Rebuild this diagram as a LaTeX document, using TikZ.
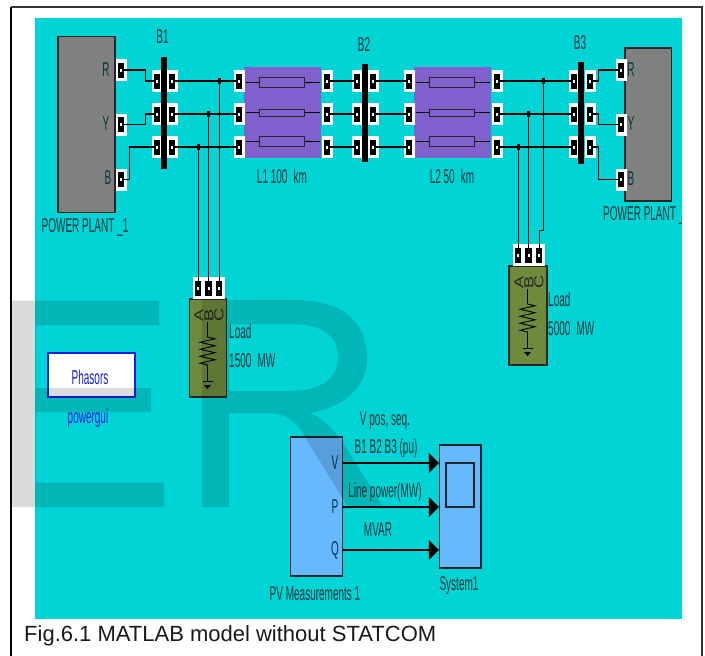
\documentclass[tikz,border=0pt]{standalone}
\usepackage{fontspec}
\setmainfont{Liberation Sans}
\usepackage{xcolor}
\usetikzlibrary{decorations.pathmorphing}
\usetikzlibrary{arrows.meta}
\newfontfamily\narrowfont[FakeStretch=0.5]{Liberation Sans}
\newfontfamily\phasefont[FakeStretch=1.4]{Liberation Sans}
\definecolor{simbg}{HTML}{00D4D4}
\definecolor{plantgray}{HTML}{808080}
\definecolor{lineblock}{HTML}{7F60CC}
\definecolor{loadgreen}{HTML}{6E8B3D}
\definecolor{scopeblue}{HTML}{66B8FF}
\definecolor{labeltxt}{HTML}{06363E}
\definecolor{guiblue}{HTML}{1420E0}
\tikzset{
	lbl/.style={font=\narrowfont\fontsize{20}{20}\selectfont, text=labeltxt, inner sep=0pt},
	phaselbl/.style={rotate=90, inner sep=0pt, font=\phasefont\fontsize{13}{13}\selectfont, text=black!85},
	port/.style={rectangle, fill=white, inner sep=0pt, minimum width=11pt, minimum height=22pt,
		path picture={
			\fill[black] ([xshift=-3.2pt,yshift=-7.5pt]path picture bounding box.center) rectangle ([xshift=3.2pt,yshift=7.5pt]path picture bounding box.center);
			\fill[white] ([xshift=-1pt,yshift=-1.5pt]path picture bounding box.center) rectangle ([xshift=1pt,yshift=1.5pt]path picture bounding box.center);
		}},
	busbar/.style={rectangle, fill=black, inner sep=0pt, minimum width=6pt},
	junc/.style={rectangle, fill=black, inner sep=0pt, minimum width=3pt, minimum height=6.5pt},
	wire/.style={line width=1.3pt, black, shorten <=-2.5pt, shorten >=-2.5pt},
	drop/.style={line width=0.9pt, black},
	res/.style={rectangle, draw=black!85, line width=1pt, fill=lineblock, inner sep=0pt, minimum width=45pt},
	sig/.style={line width=1.4pt, black, -{Triangle[length=10pt,width=20pt]}},
	block/.style={rectangle, draw=black!85, line width=1.2pt, inner sep=0pt},
}
\def\loadsym#1#2#3{
	\begin{scope}[shift={(#1,#2)}]
		\node[phaselbl] (#3a) at (9.5,16) {A};
		\node[phaselbl] (#3b) at (19.5,16) {B};
		\node[phaselbl] (#3c) at (29.5,16) {C};
		\draw[line width=0.9pt] (18,23) -- (18,38);
		\draw[line width=0.9pt, decorate, decoration={zigzag, segment length=7pt, amplitude=7.5pt}] (18,38) -- (18,69);
		\draw[line width=0.9pt] (18,69) -- (18,82);
		\draw[line width=0.9pt] (13,82) -- (23,82);
		\fill[black] (14.5,86) -- (21.5,86) -- (18,90) -- cycle;
	\end{scope}
}

\begin{document}
\begin{tikzpicture}[x=1pt, y=-1pt]
	\useasboundingbox (0,0) rectangle (705,656);
	\fill[white] (0,0) rectangle (705,656);
	\fill[simbg] (35,18) rectangle (682,619);
	\draw[line width=1.2pt, black!80] (11,7) -- (702,7) -- (702,656);
	\draw[line width=2pt, black] (11,7) -- (11,656);

	% source blocks
	\node[block, fill=plantgray, minimum width=57pt, minimum height=176pt] (plantA) at (86.5,124.5) {};
	\node[block, fill=plantgray, minimum width=46.5pt, minimum height=153pt] (plantB) at (648.2,124.5) {};
	\node[lbl] (plantAr) at (106,70) {R};
	\node[lbl] (plantAy) at (106,124) {Y};
	\node[lbl] (plantAb) at (108,178) {B};
	\node[lbl] (plantBr) at (631,70) {R};
	\node[lbl] (plantBy) at (631,124) {Y};
	\node[lbl] (plantBb) at (631,179) {B};
	\node[lbl] (plantAname) at (85,228) {POWER PLANT \_1};
	\node[lbl, anchor=west] (plantBname) at (603,216) {POWER PLANT \_};
	\fill[white] (682,190) rectangle (701,240);

	% line blocks
	\node[rectangle, fill=lineblock, inner sep=0pt, minimum width=77pt, minimum height=91pt] (lineA) at (282.5,112.5) {};
	\node[rectangle, fill=lineblock, inner sep=0pt, minimum width=77pt, minimum height=91pt] (lineB) at (452.5,112.5) {};
	\node[res, minimum height=10.5pt] (lineAr) at (281.5,82.5) {};
	\node[res, minimum height=7pt] (lineAy) at (281.5,112.5) {};
	\node[res, minimum height=10.5pt] (lineAb) at (281.5,141.5) {};
	\node[res, minimum height=10.5pt] (lineBr) at (451.5,82.5) {};
	\node[res, minimum height=7pt] (lineBy) at (451.5,112.5) {};
	\node[res, minimum height=10.5pt] (lineBb) at (451.5,141.5) {};
	\draw[line width=1.3pt] (lineAr.west) -- ([xshift=2pt]lineAr.west -| lineA.west);
	\draw[line width=1.3pt] (lineAy.west) -- ([xshift=2pt]lineAy.west -| lineA.west);
	\draw[line width=1.3pt] (lineAb.west) -- ([xshift=2pt]lineAb.west -| lineA.west);
	\draw[line width=1.3pt] (lineAr.east) -- ([xshift=-1pt]lineAr.east -| lineA.east);
	\draw[line width=1.3pt] (lineAy.east) -- ([xshift=-1pt]lineAy.east -| lineA.east);
	\draw[line width=1.3pt] (lineAb.east) -- ([xshift=-1pt]lineAb.east -| lineA.east);
	\draw[line width=1.3pt] (lineBr.west) -- ([xshift=2pt]lineBr.west -| lineB.west);
	\draw[line width=1.3pt] (lineBy.west) -- ([xshift=2pt]lineBy.west -| lineB.west);
	\draw[line width=1.3pt] (lineBb.west) -- ([xshift=2pt]lineBb.west -| lineB.west);
	\draw[line width=1.3pt] (lineBr.east) -- ([xshift=-1pt]lineBr.east -| lineB.east);
	\draw[line width=1.3pt] (lineBy.east) -- ([xshift=-1pt]lineBy.east -| lineB.east);
	\draw[line width=1.3pt] (lineBb.east) -- ([xshift=-1pt]lineBb.east -| lineB.east);
	\node[lbl] (lineAname) at (282,176) {L1 100\, km};
	\node[lbl] (lineBname) at (452,176) {L2 50\, km};

	% ports
	\node[port] (srcAr) at (121,70) {};
	\node[port] (srcAy) at (121,124.5) {};
	\node[port] (srcAb) at (121,179.5) {};
	\node[port] (srcBr) at (621,70) {};
	\node[port] (srcBy) at (621,124.5) {};
	\node[port] (srcBb) at (621,179.5) {};
	\node[port] (busAlr) at (157,81) {};
	\node[port] (busAly) at (157,114) {};
	\node[port] (busAlb) at (157,147) {};
	\node[port] (busArr) at (172,81) {};
	\node[port] (busAry) at (172,114) {};
	\node[port] (busArb) at (172,147) {};
	\node[port] (busBlr) at (357,81) {};
	\node[port] (busBly) at (357,114) {};
	\node[port] (busBlb) at (357,147) {};
	\node[port] (busBrr) at (373,81) {};
	\node[port] (busBry) at (373,114) {};
	\node[port] (busBrb) at (373,147) {};
	\node[port] (busClr) at (574,81) {};
	\node[port] (busCly) at (574,114) {};
	\node[port] (busClb) at (574,147) {};
	\node[port] (busCrr) at (590,81) {};
	\node[port] (busCry) at (590,114) {};
	\node[port] (busCrb) at (590,147) {};
	\node[port] (lineAinr) at (239,81) {};
	\node[port] (lineAiny) at (239,114) {};
	\node[port] (lineAinb) at (239,147) {};
	\node[port] (lineAoutr) at (327,81) {};
	\node[port] (lineAouty) at (327,114) {};
	\node[port] (lineAoutb) at (327,147) {};
	\node[port] (lineBinr) at (409,81) {};
	\node[port] (lineBiny) at (409,114) {};
	\node[port] (lineBinb) at (409,147) {};
	\node[port] (lineBoutr) at (497,81) {};
	\node[port] (lineBouty) at (497,114) {};
	\node[port] (lineBoutb) at (497,147) {};

	% bus bars
	\node[busbar, minimum height=112pt] (busA) at (164,113) {};
	\node[busbar, minimum height=98pt] (busB) at (365,113) {};
	\node[busbar, minimum height=102pt] (busC) at (581,113) {};
	\node[lbl] (busAname) at (162.5,37) {B1};
	\node[lbl] (busBname) at (364,45) {B2};
	\node[lbl] (busCname) at (580,43) {B3};

	% loads
	\node[block, fill=loadgreen, minimum width=37pt, minimum height=98pt] (loadA) at (208,348) {};
	\node[block, fill=loadgreen, minimum width=38pt, minimum height=99pt] (loadB) at (528,315.5) {};
	\node[port] (loadAa) at (198,288) {};
	\node[port] (loadAb) at (208.5,288) {};
	\node[port] (loadAc) at (219,288) {};
	\node[port] (loadBa) at (518,255) {};
	\node[port] (loadBb) at (528.5,255) {};
	\node[port] (loadBc) at (539,255) {};
	\loadsym{189.5}{299}{symA}
	\loadsym{509.5}{266}{symB}
	\node[lbl, anchor=west] (loadAname) at (229,331) {Load};
	\node[lbl, anchor=west] (loadApow) at (229,361) {1500\, MW};
	\node[lbl, anchor=west] (loadBname) at (548,299) {Load};
	\node[lbl, anchor=west] (loadBpow) at (548,329) {5000\, MW};

	% junctions
	\node[junc] (jAr) at (219,81) {};
	\node[junc] (jAy) at (208.5,114) {};
	\node[junc] (jAb) at (198,147) {};
	\node[junc] (jBr) at (543,81) {};
	\node[junc] (jBy) at (528.5,114) {};
	\node[junc] (jBb) at (518,147) {};

	% three phase wiring
	\draw[wire] (srcAr.east) -| ([xshift=-6pt]busAlr.west) |- (busAlr.west);
	\draw[wire] (srcAy.east) -| ([xshift=-6pt]busAly.west) |- (busAly.west);
	\draw[wire] (srcAb.east) -| ([xshift=-22pt]busAlb.west) |- (busAlb.west);
	\draw[wire] (busArr.east) -- (lineAinr.west);
	\draw[wire] (busAry.east) -- (lineAiny.west);
	\draw[wire] (busArb.east) -- (lineAinb.west);
	\draw[wire] (lineAoutr.east) -- (busBlr.west);
	\draw[wire] (lineAouty.east) -- (busBly.west);
	\draw[wire] (lineAoutb.east) -- (busBlb.west);
	\draw[wire] (busBrr.east) -- (lineBinr.west);
	\draw[wire] (busBry.east) -- (lineBiny.west);
	\draw[wire] (busBrb.east) -- (lineBinb.west);
	\draw[wire] (lineBoutr.east) -- (busClr.west);
	\draw[wire] (lineBouty.east) -- (busCly.west);
	\draw[wire] (lineBoutb.east) -- (busClb.west);
	\draw[wire] (busCrr.east) -| ([xshift=-17pt]srcBr.west) |- (srcBr.west);
	\draw[wire] (busCry.east) -| ([xshift=-17pt]srcBy.west) |- (srcBy.west);
	\draw[wire] (busCrb.east) -| ([xshift=-17pt]srcBb.west) |- (srcBb.west);
	\draw[drop] (jAr.center) -- ([yshift=-4pt]loadAc.north);
	\draw[drop] (jAy.center) -- ([yshift=-4pt]loadAb.north);
	\draw[drop] (jAb.center) -- ([yshift=-4pt]loadAa.north);
	\draw[drop] (jBr.center) |- ([yshift=13pt]loadBc.north) -- ([yshift=-4pt]loadBc.north);
	\draw[drop] (jBy.center) -- ([yshift=-4pt]loadBb.north);
	\draw[drop] (jBb.center) -- ([yshift=-4pt]loadBa.north);

	% powergui
	\node[rectangle, draw=guiblue, line width=1.4pt, fill=white, inner sep=0pt, minimum width=87pt, minimum height=44pt] (gui) at (91.5,375) {};
	\node[lbl, text=guiblue] (guitext) at (90,377) {Phasors};
	\node[lbl, text=guiblue] (guiname) at (88,418) {powergui};

	% measurements
	\node[block, fill=scopeblue, minimum width=52pt, minimum height=139pt] (pv) at (316.5,506.5) {};
	\node[block, fill=scopeblue, minimum width=41.5pt, minimum height=123pt] (sys) at (460.2,506.5) {};
	\node[block, fill=scopeblue, minimum width=28pt, minimum height=44pt] (sysscreen) at (460,485) {};
	\node[lbl] (pvV) at (335,463) {V};
	\node[lbl] (pvP) at (335,507) {P};
	\node[lbl] (pvQ) at (335,550) {Q};
	\draw[sig] (pvV.center -| pv.east) -- (pvV.center -| sys.west);
	\draw[sig] (pvP.center -| pv.east) -- (pvP.center -| sys.west);
	\draw[sig] (pvQ.center -| pv.east) -- (pvQ.center -| sys.west);
	\node[lbl] (sigA) at (385,421) {V pos, seq.};
	\node[lbl] (sigB) at (386,448) {B1 B2 B3 (pu)};
	\node[lbl] (sigC) at (385,492) {Line power(MW)};
	\node[lbl] (sigD) at (378,530) {MVAR};
	\node[lbl] (pvname) at (315,594) {PV Measurements 1};
	\node[lbl] (sysname) at (459,586) {System1};

	\node[anchor=west, inner sep=0pt, font=\fontsize{22}{22}\selectfont, text=black!90] (caption) at (24,636) {Fig.6.1 MATLAB model without STATCOM};

	% watermark
	\fill[black, opacity=0.14] (12,300.5) -- (159,300.5) -- (159,325) -- (36,325) -- (36,388) -- (151,388) -- (151,412) -- (36,412) -- (36,482.5) -- (164,482.5) -- (164,507) -- (12,507) -- cycle;
	\fill[black, opacity=0.14, even odd rule] (202,300) -- (295,300) .. controls (340,300) and (367,320) .. (367,358) .. controls (367,390) and (340,408) .. (310,413) .. controls (322,418) and (332,428) .. (342,441) -- (383,507) -- (348,507) -- (305,437) .. controls (297,422) and (285,413) .. (270,413) -- (229,413) -- (229,507) -- (202,507) -- cycle
		(229,324) -- (290,324) .. controls (322,324) and (338,335) .. (338,358) .. controls (338,378) and (322,391) .. (290,391) -- (229,391) -- cycle;
\end{tikzpicture}
\end{document}
